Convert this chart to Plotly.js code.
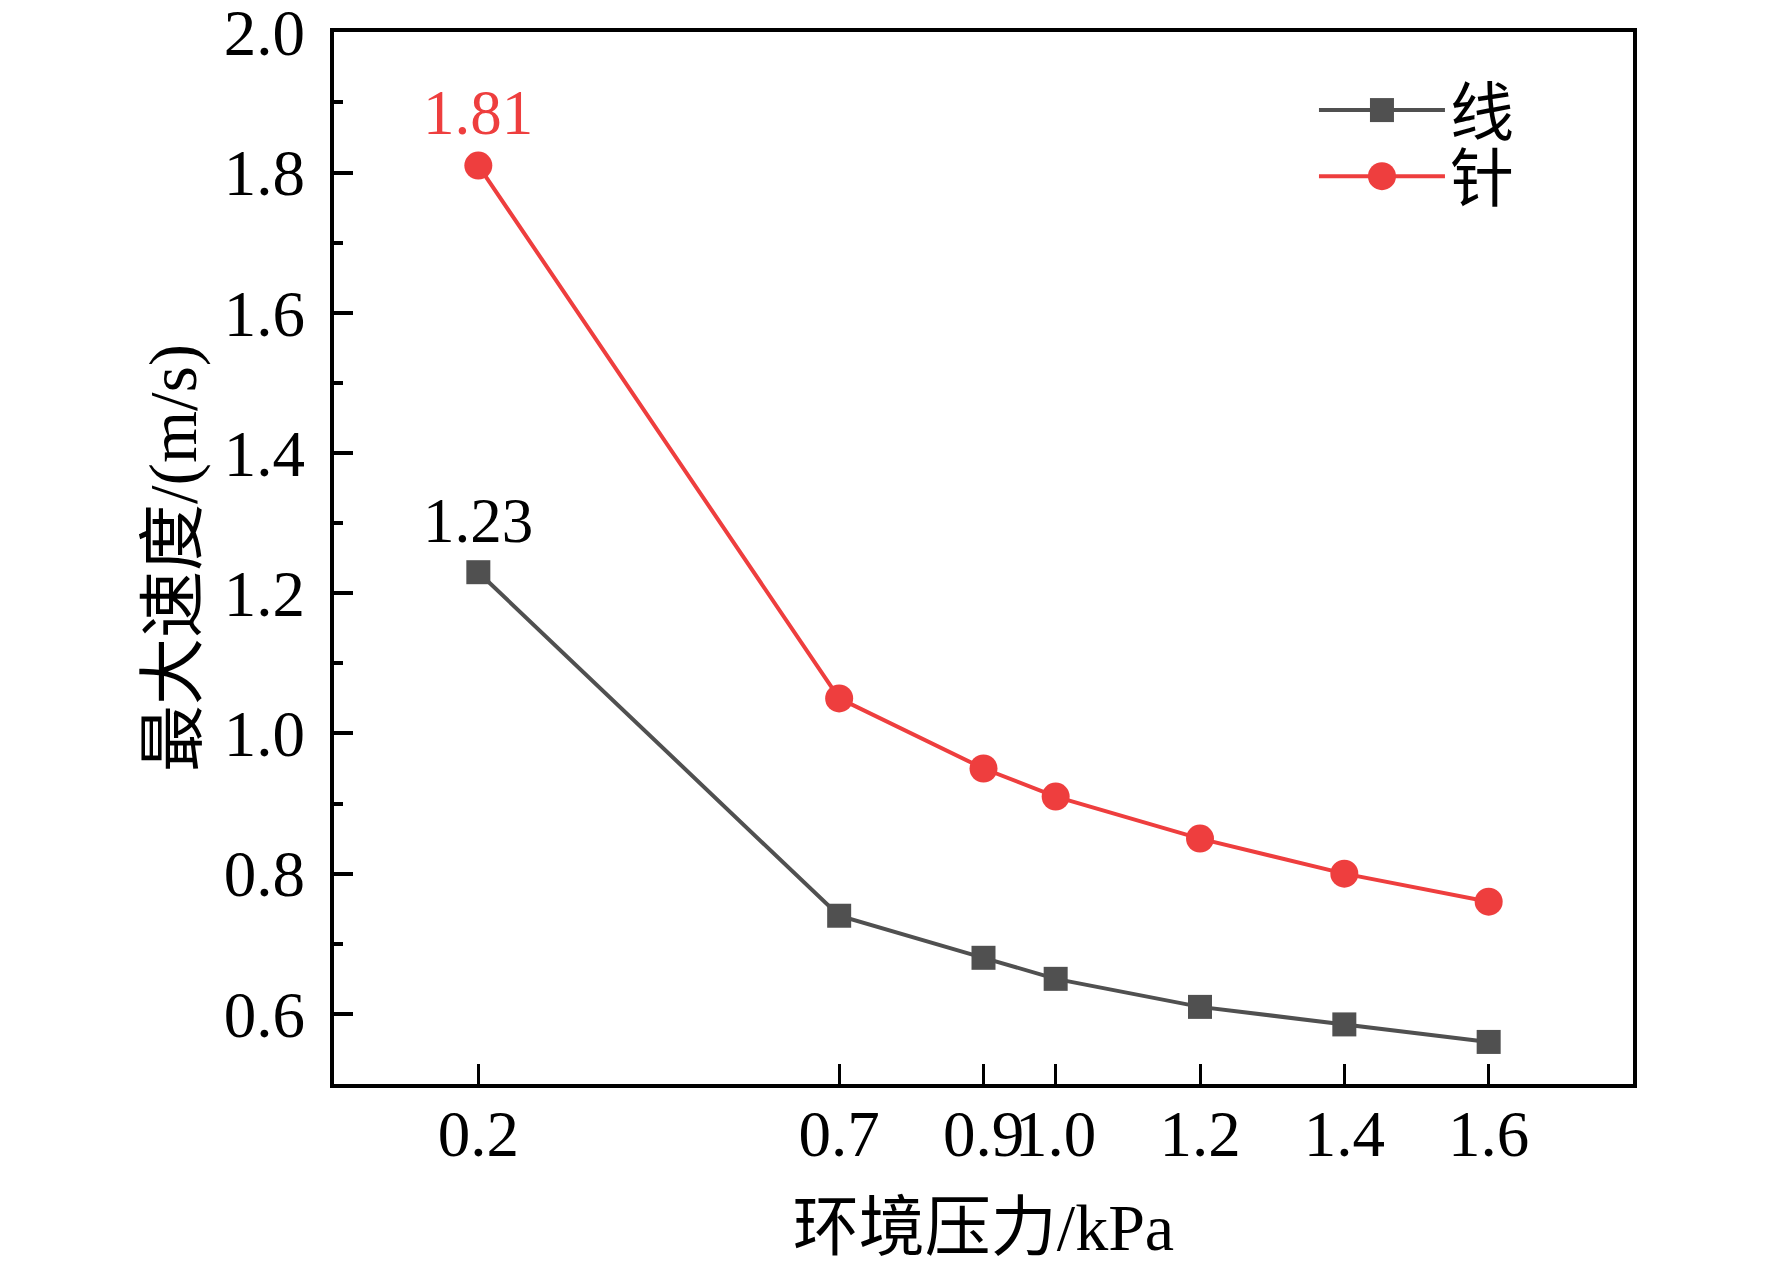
<!DOCTYPE html>
<html>
<head>
<meta charset="utf-8">
<script src="https://cdn.plot.ly/plotly-3.0.1.min.js"></script>
<style>
  html, body { margin: 0; padding: 0; background: #fff; }
  #chart { width: 1772px; height: 1264px; }
</style>
</head>
<body>
<div id="chart"></div>
<script>
// ambient pressure (kPa) and max velocity (m/s)
const pressure = [0.2, 0.7, 0.9, 1.0, 1.2, 1.4, 1.6];
const wire_speed = [1.23, 0.74, 0.68, 0.65, 0.61, 0.585, 0.56];
const needle_speed = [1.81, 1.05, 0.95, 0.91, 0.85, 0.80, 0.76];
const series_names = ['线', '针'];
const x_tick_labels = ['0.2', '0.7', '0.9', '1.0', '1.2', '1.4', '1.6'];

const FONT_FAMILY = '"Liberation Serif", "Times New Roman", "Noto Sans CJK SC", serif';
const GRAY = '#505050';
const RED = '#ee3e3e';
const SQUARE_SIZE = 24;
const CIRCLE_SIZE = 28;

const traces = [
  {
    type: 'scatter',
    mode: 'lines+markers',
    name: series_names[0],
    x: pressure,
    y: wire_speed,
    line: {color: GRAY, width: 4},
    marker: {symbol: 'square', size: SQUARE_SIZE, color: GRAY},
    legend: 'legend',
  },
  {
    type: 'scatter',
    mode: 'lines+markers',
    name: series_names[1],
    x: pressure,
    y: needle_speed,
    line: {color: RED, width: 4},
    marker: {symbol: 'circle', size: CIRCLE_SIZE, color: RED},
    legend: 'legend2',
  },
];

// value labels over the first point of each series
const annotations = [
  {x: pressure[0], y: wire_speed[0], text: wire_speed[0].toFixed(2), color: 'black', shift: 51},
  {x: pressure[0], y: needle_speed[0], text: needle_speed[0].toFixed(2), color: RED, shift: 53},
].map(a => ({
  x: a.x, y: a.y, xref: 'x', yref: 'y',
  text: a.text, showarrow: false, yshift: a.shift,
  font: {family: FONT_FAMILY, size: 63, color: a.color},
}));

function legend_box(y) {
  return {
    x: 0.7544, y: y, xanchor: 'left', yanchor: 'top',
    bgcolor: 'rgba(0,0,0,0)',
    font: {family: FONT_FAMILY, size: 64, color: 'black'},
    itemwidth: 126,
  };
}

const layout = {
  width: 1772,
  height: 1264,
  paper_bgcolor: '#fff',
  plot_bgcolor: '#fff',
  margin: {l: 334, r: 139, t: 32, b: 180, pad: 0},
  font: {family: FONT_FAMILY, size: 64, color: 'black'},
  showlegend: true,
  legend: legend_box(0.9715),
  legend2: legend_box(0.9087),
  xaxis: {
    range: [0, 1.8],
    tickmode: 'array',
    tickvals: pressure,
    ticktext: x_tick_labels,
    tickangle: 0,
    ticks: 'inside',
    ticklen: 20,
    tickwidth: 3,
    tickcolor: 'black',
    ticklabelstandoff: -10,
    ticklabeloverflow: 'allow',
    showline: true,
    linewidth: 4,
    linecolor: 'black',
    mirror: true,
    showgrid: false,
    zeroline: false,
    tickfont: {family: FONT_FAMILY, size: 65},
    title: {text: '环境压力/kPa', standoff: 36, font: {family: FONT_FAMILY, size: 66}},
  },
  yaxis: {
    range: [0.5, 2.0005],
    tick0: 0,
    dtick: 0.2,
    tickformat: '.1f',
    ticks: 'inside',
    ticklen: 19,
    tickwidth: 4,
    tickcolor: 'black',
    ticklabelstandoff: 12,
    ticklabeloverflow: 'allow',
    minor: {ticks: 'inside', ticklen: 9, tickwidth: 4, dtick: 0.1, tick0: 0, tickcolor: 'black', showgrid: false},
    showline: true,
    linewidth: 4,
    linecolor: 'black',
    mirror: true,
    showgrid: false,
    zeroline: false,
    tickfont: {family: FONT_FAMILY, size: 65},
    title: {text: '最大速度/(m/s)', standoff: 6, font: {family: FONT_FAMILY, size: 67}},
  },
  annotations: annotations,
};

Plotly.newPlot('chart', traces, layout, {displayModeBar: false, staticPlot: true}).then(gd => {
  // plotly caps legend symbols at 16px; blow them back up to the trace marker size
  gd.querySelectorAll('.legendpoints').forEach(g => {
    const cd = g.__data__;
    const trace = cd && cd[0] && cd[0].trace;
    if (!trace) return;
    g.querySelectorAll('path.scatterpts').forEach(p => {
      const w = p.getBBox().width;
      if (!w) return;
      const k = trace.marker.size / w;
      p.setAttribute('transform', (p.getAttribute('transform') || '') + ` scale(${k})`);
    });
  });
});
</script>
</body>
</html>
